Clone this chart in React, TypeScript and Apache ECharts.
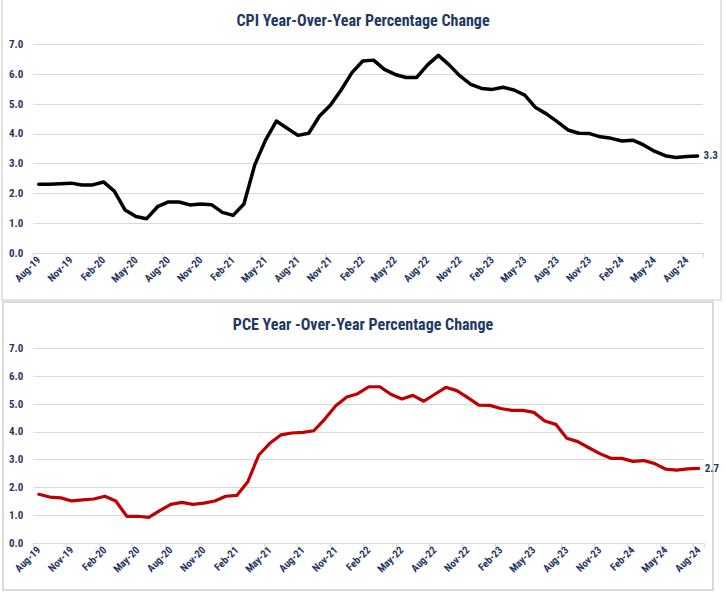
import React, { useEffect, useRef } from "react";
import * as echarts from "echarts";

const cpiMonths = [
  "Aug-19","Sep-19","Oct-19","Nov-19","Dec-19","Jan-20","Feb-20","Mar-20","Apr-20","May-20","Jun-20","Jul-20",
  "Aug-20","Sep-20","Oct-20","Nov-20","Dec-20","Jan-21","Feb-21","Mar-21","Apr-21","May-21","Jun-21","Jul-21",
  "Aug-21","Sep-21","Oct-21","Nov-21","Dec-21","Jan-22","Feb-22","Mar-22","Apr-22","May-22","Jun-22","Jul-22",
  "Aug-22","Sep-22","Oct-22","Nov-22","Dec-22","Jan-23","Feb-23","Mar-23","Apr-23","May-23","Jun-23","Jul-23",
  "Aug-23","Sep-23","Oct-23","Nov-23","Dec-23","Jan-24","Feb-24","Mar-24","Apr-24","May-24","Jun-24","Jul-24",
  "Aug-24","Sep-24",
];
const pceMonths = cpiMonths.slice(0, 61);

const cpiValues = [
  2.31, 2.31, 2.33, 2.35, 2.29, 2.29, 2.39, 2.08, 1.45, 1.23, 1.16, 1.56,
  1.72, 1.72, 1.62, 1.65, 1.63, 1.37, 1.27, 1.65, 2.96, 3.79, 4.43, 4.19,
  3.95, 4.02, 4.60, 4.96, 5.47, 6.05, 6.44, 6.47, 6.16, 5.99, 5.89, 5.89,
  6.31, 6.63, 6.31, 5.94, 5.66, 5.52, 5.49, 5.56, 5.47, 5.30, 4.88, 4.67,
  4.41, 4.13, 4.02, 4.01, 3.90, 3.85, 3.76, 3.79, 3.63, 3.42, 3.27, 3.21,
  3.24, 3.26,
];
const pceValues = [
  1.76, 1.66, 1.63, 1.52, 1.56, 1.59, 1.69, 1.52, 0.97, 0.97, 0.93, 1.17,
  1.40, 1.47, 1.40, 1.44, 1.52, 1.69, 1.72, 2.21, 3.17, 3.59, 3.89, 3.96,
  3.98, 4.04, 4.46, 4.94, 5.25, 5.37, 5.62, 5.62, 5.35, 5.18, 5.31, 5.10,
  5.35, 5.60, 5.48, 5.23, 4.96, 4.95, 4.84, 4.77, 4.77, 4.70, 4.39, 4.27,
  3.77, 3.65, 3.43, 3.22, 3.05, 3.05, 2.94, 2.97, 2.86, 2.66, 2.63, 2.67,
  2.69,
];

const yTicks = { min: 0, max: 7, interval: 1 };
const cpiTitle = "CPI Year-Over-Year Percentage Change";
const pceTitle = "PCE Year -Over-Year Percentage Change";

const NAVY = "#1F3864";
const GRID = "#d9d9d9";
const FONT = "'Liberation Sans Narrow', 'Roboto Condensed', 'Open Sans', 'Liberation Sans', sans-serif";

export default function App() {
  const ref = useRef<HTMLDivElement>(null);
  useEffect(() => {
    document.body.style.margin = "0";
    if (!ref.current) return;
    const chart = echarts.init(ref.current, null, { renderer: "svg" });

    const xAxisFor = (idx: number, data: string[]) => ({
      type: "category",
      gridIndex: idx,
      data,
      boundaryGap: true,
      axisLine: { lineStyle: { color: GRID, width: 1 } },
      axisTick: { show: true, interval: 2, length: 4, lineStyle: { color: GRID } },
      axisLabel: {
        interval: 2,
        rotate: 45,
        margin: 5,
        color: NAVY,
        fontWeight: "bold",
        fontSize: 10.5,
        fontFamily: FONT,
      },
      splitLine: { show: false },
    });
    const yAxisFor = (idx: number) => ({
      type: "value",
      gridIndex: idx,
      min: yTicks.min,
      max: yTicks.max,
      interval: yTicks.interval,
      axisLine: { show: false },
      axisTick: { show: false },
      axisLabel: {
        margin: 10,
        color: NAVY,
        fontWeight: "bold",
        fontSize: 11,
        fontFamily: FONT,
        formatter: (v: number) => v.toFixed(1),
      },
      splitLine: { lineStyle: { color: GRID, width: 1 } },
    });

    chart.setOption({
      animation: false,
      backgroundColor: "#ffffff",
      title: [
        {
          text: cpiTitle,
          left: "center",
          top: 7,
          textStyle: { color: NAVY, fontWeight: "bold", fontSize: 16, fontFamily: FONT },
        },
        {
          text: pceTitle,
          left: "center",
          top: 311,
          textStyle: { color: NAVY, fontWeight: "bold", fontSize: 16, fontFamily: FONT },
        },
      ],
      graphic: [
        {
          type: "rect",
          shape: { x: 2, y: -2, width: 719, height: 302 },
          style: { fill: "none", stroke: GRID, lineWidth: 1.5 },
          silent: true,
        },
        {
          type: "rect",
          shape: { x: 3, y: 302, width: 710, height: 288 },
          style: { fill: "#ffffff", stroke: GRID, lineWidth: 2 },
          silent: true,
          z: -1,
        },
      ],
      grid: [
        { left: 33.3, right: 23, top: 44.3, height: 209 },
        { left: 33.3, right: 21.7, top: 348.3, height: 195 },
      ],
      xAxis: [xAxisFor(0, cpiMonths), xAxisFor(1, pceMonths)],
      yAxis: [yAxisFor(0), yAxisFor(1)],
      series: [
        {
          type: "line",
          xAxisIndex: 0,
          yAxisIndex: 0,
          data: cpiValues,
          symbol: "none",
          lineStyle: { color: "#000000", width: 3.5, cap: "round", join: "round" },
          endLabel: {
            show: true,
            distance: 6,
            color: NAVY,
            fontWeight: "bold",
            fontSize: 11,
            fontFamily: FONT,
            formatter: (p: any) => Number(p.value).toFixed(1),
          },
        },
        {
          type: "line",
          xAxisIndex: 1,
          yAxisIndex: 1,
          data: pceValues,
          symbol: "none",
          lineStyle: { color: "#C00000", width: 3.2, cap: "round", join: "round" },
          endLabel: {
            show: true,
            distance: 6,
            color: NAVY,
            fontWeight: "bold",
            fontSize: 11,
            fontFamily: FONT,
            formatter: (p: any) => Number(p.value).toFixed(1),
          },
        },
      ],
    });
    return () => chart.dispose();
  }, []);
  return (
    <div
      ref={ref}
      style={{ position: "absolute", left: 0, top: 0, width: 726, height: 594 }}
    />
  );
}
